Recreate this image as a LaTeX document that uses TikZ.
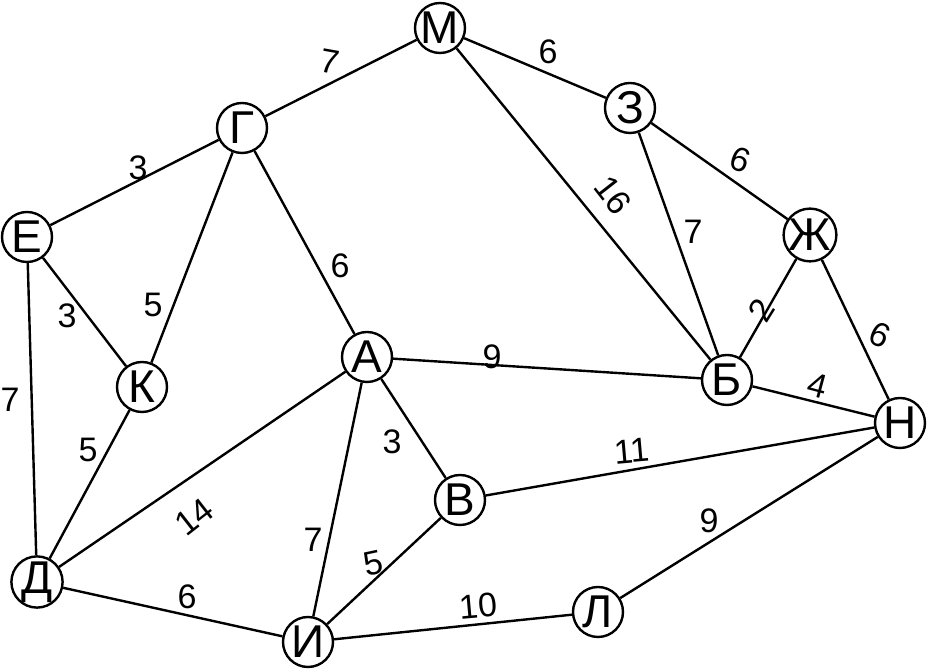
\documentclass[tikz,border=0pt]{standalone}
\usepackage{fontspec}
\setmainfont{Liberation Sans}
\begin{document}
\begin{tikzpicture}[x=0.5pt,y=-0.5pt,
    vertex/.style={circle,draw,line width=1.2pt,minimum size=25pt,inner sep=0pt,font=\fontsize{23}{23}\selectfont},
    weight/.style={inner sep=0pt,font=\fontsize{17}{17}\selectfont}]
        \useasboundingbox (0,0) rectangle (928,672);
        % vertices
            \foreach \v/\x/\y/\t in {M/440/28/М,G/242/128/Г,Z/630/108/З,E/27/237/Е,Zh/810/235/Ж,
                K/142/387/К,A/367/357/А,B/727/380/Б,N/900/423/Н,V/460/500/В,D/37/582/Д,
                I/308/642/И,L/598/612/Л}{
                \node[vertex] (\v) at (\x,\y) {\t};
            }
        % edges
            \foreach \a/\b in {M/G,M/Z,M/B,Z/B,Z/Zh,Zh/B,Zh/N,B/N,G/E,G/K,G/A,E/K,E/D,
                K/D,A/B,A/V,A/D,A/I,V/N,V/I,D/I,I/L,L/N}{
                \draw[line width=1.2pt] (\a) -- (\b);
            }
        % weights
            \foreach \x/\y/\r/\t [count=\i] in {330/62/-10/7,548/52/0/6,613/195/-52/16,693/232/0/7,
                740/160/-20/6,761/310/58/2,880/335/-25/6,818/386/-15/4,138/168/0/3,153/305/0/5,
                340/266/0/6,67/316/0/3,10/400/0/7,88/450/0/5,492/357/0/9,392/442/0/3,
                194/517/38/14,313/540/0/7,632/451/5/11,373/563/12/5,187/597/0/6,478/606/5/10,
                709/521/0/9}{
                \node[weight,rotate=\r] (w\i) at (\x,\y) {\t};
            }
        \end{tikzpicture}
\end{document}
